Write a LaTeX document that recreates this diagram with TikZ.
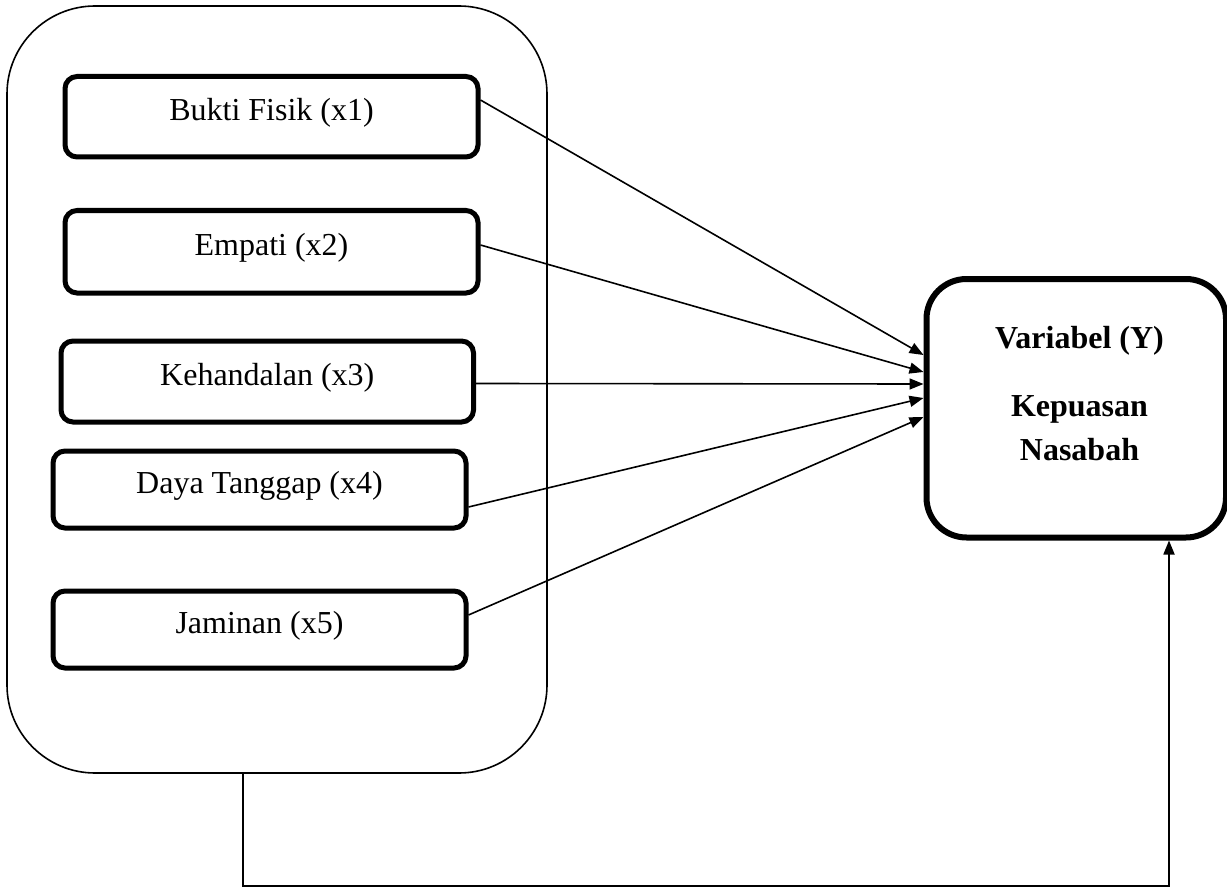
\documentclass[tikz,border=0pt]{standalone}
\usepackage{fontspec}
\setmainfont{Liberation Serif}
\usetikzlibrary{arrows.meta,calc}
\begin{document}
\begin{tikzpicture}[x=1pt,y=-1pt,
  inbox/.style={draw, line width=5pt, rounded corners=12pt, inner sep=0pt,
    font=\fontsize{32pt}{38pt}\selectfont, text height=22pt, text depth=14pt},
  grpbox/.style={draw, line width=1.6pt, rounded corners=88pt, inner sep=0pt},
  ybox/.style={draw, line width=6pt, rounded corners=40pt, inner sep=0pt},
  ytext/.style={font=\fontsize{32pt}{38pt}\selectfont\bfseries, anchor=base, inner sep=0pt},
  conn/.style={line width=1.6pt, -{Triangle[length=14pt,width=11pt]}},
]
\useasboundingbox (0,0) rectangle (1227,888);

\node[grpbox, minimum width=540pt, minimum height=767pt] (grp) at (277,389.5) {};

\node[inbox, minimum width=413pt, minimum height=80.5pt] (b1) at (271.5,116.75) {Bukti Fisik (x1)};
\node[inbox, minimum width=413pt, minimum height=82.5pt] (b2) at (271.5,251.75) {Empati (x2)};
\node[inbox, minimum width=412.5pt, minimum height=81pt] (b3) at (267.25,381.5) {Kehandalan (x3)};
\node[inbox, minimum width=413pt, minimum height=77pt] (b4) at (259.5,489.5) {Daya Tanggap (x4)};
\node[inbox, minimum width=413pt, minimum height=77pt] (b5) at (259.5,629.5) {Jaminan (x5)};

\node[ybox, minimum width=299.5pt, minimum height=258.5pt] (Y) at (1076.25,408.25) {};
\node[ytext] (yl1) at (1079.5,348) {Variabel (Y)};
\node[ytext] (yl2) at (1079.5,416) {Kepuasan};
\node[ytext] (yl3) at (1079.5,460) {Nasabah};

\draw[conn] ($(b1.east)+(0,-16.75)$) -- ($(Y.west)+(0,-53.25)$);
\draw[conn] ($(b2.east)+(0,-6.75)$) -- ($(Y.west)+(0,-36.25)$);
\draw[conn] ($(b3.east)+(0,2)$) -- ($(Y.west)+(0,-24.25)$);
\draw[conn] ($(b4.east)+(0,17.5)$) -- ($(Y.west)+(0,-10.25)$);
\draw[conn] ($(b5.east)+(0,-14.5)$) -- ($(Y.west)+(0,8.75)$);

\coordinate (c1) at (243,886);
\coordinate (c2) at (1169,886);
\draw[conn, line width=1.8pt] (grp.south -| c1) -- (c1) -- (c2) -- (Y.south -| c2);
\end{tikzpicture}
\end{document}
